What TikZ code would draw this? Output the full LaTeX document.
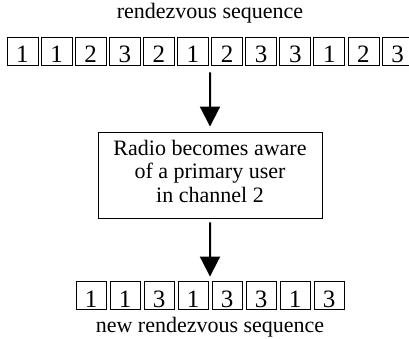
\documentclass[tikz,border=0pt]{standalone}
\usepackage{fontspec}
\setmainfont{Liberation Serif}
\usetikzlibrary{arrows.meta,calc}
\begin{document}
\begin{tikzpicture}[x=1pt,y=-1pt,
  seqbox/.style={draw,line width=0.9pt,minimum width=31pt,minimum height=28pt,inner sep=0pt,
    text height=24pt,text depth=0pt,font=\fontsize{25}{28}\selectfont},
  nseqbox/.style={seqbox,minimum width=30pt},
  label/.style={anchor=base,inner sep=0pt,font=\fontsize{22}{26}\selectfont},
  midbox/.style={draw,line width=0.9pt,minimum width=224pt,minimum height=86pt,inner sep=0pt,
    align=center,text depth=8pt,font=\fontsize{22}{23.5}\selectfont},
  arr/.style={line width=2pt,-{Triangle[width=20pt,length=20pt]}}]
\useasboundingbox (0,0) rectangle (409,339);
\clip (0,0) rectangle (409,339);
% top sequence
\node[label] (toplabel) at (210,19) {rendezvous sequence};
\foreach \d [count=\i] in {1,1,2,3,2,1,2,3,3,1,2,3} {
  \node[seqbox] (t\i) at ({22.45+34.1*(\i-1)},51) {\d};
}
% middle box
\node[midbox] (mid) at (210,175) {Radio becomes aware\\of a primary user\\in channel 2};
% bottom sequence
\foreach \d [count=\i] in {1,1,3,1,3,3,1,3} {
  \node[nseqbox] (b\i) at ({91+34*(\i-1)},295) {\d};
}
\node[label] (botlabel) at (210,332) {new rendezvous sequence};
% arrows
\coordinate (topgap) at ($(t6.south east)!0.5!(t7.south west)$);
\coordinate (botgap) at ($(b4.north east)!0.5!(b5.north west)$);
\draw[arr] ([yshift=-7pt]topgap) -- ([yshift=5pt]mid.north);
\draw[arr] ([yshift=-4pt]mid.south) -- ([yshift=4pt]botgap);
\end{tikzpicture}
\end{document}
